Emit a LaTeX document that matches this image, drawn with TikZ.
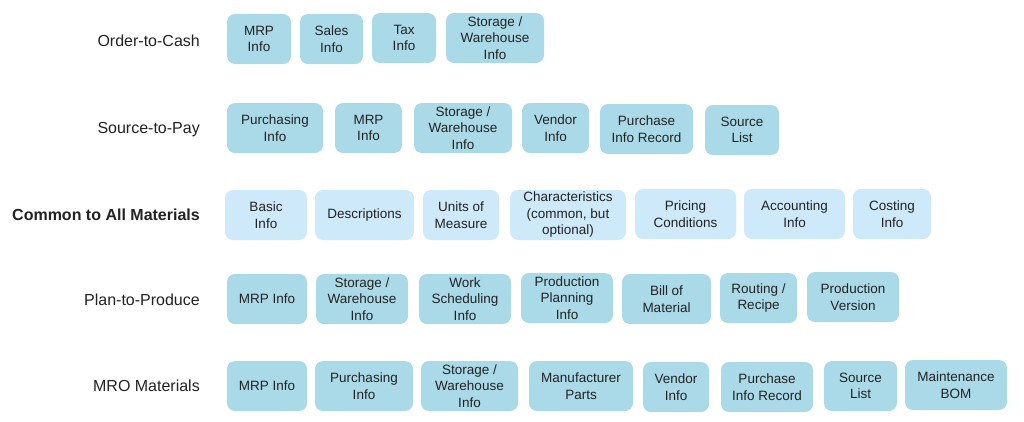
\documentclass[tikz,border=0pt]{standalone}
\usepackage{fontspec}
\setmainfont{Liberation Sans}
\definecolor{boxblue}{RGB}{170,218,232}
\definecolor{boxlight}{RGB}{206,233,250}
\definecolor{txtgray}{RGB}{34,34,34}
\begin{document}
\begin{tikzpicture}[x=1pt,y=-1pt,line join=round,
    rowlabel/.style={anchor=east,inner sep=0pt,text=txtgray,font=\fontsize{16}{19}\selectfont},
    infobox/.style={fill=boxblue,rounded corners=8pt,minimum height=50pt,inner sep=1pt,align=center,text=txtgray,font=\fontsize{13.5}{16.5}\selectfont},
    commonbox/.style={infobox,fill=boxlight}]
	\useasboundingbox (0,0) rectangle (1024,421);
	% row labels
	\node[rowlabel] (o2c) at (200,41) {Order-to-Cash};
	\node[rowlabel] (s2p) at (200,130) {Source-to-Pay};
	\node[rowlabel,font=\fontsize{16}{19}\selectfont\bfseries] (common) at (200,215) {Common to All Materials};
	\node[rowlabel] (p2p) at (200,300) {Plan-to-Produce};
	\node[rowlabel] (mro) at (200,386) {MRO Materials};
	% Order-to-Cash
	\node[infobox,minimum width=64pt] (o2c-mrp) at (259,39) {MRP\\Info};
	\node[infobox,minimum width=63pt] (o2c-sales) at (331.5,39) {Sales\\Info};
	\node[infobox,minimum width=64pt] (o2c-tax) at (404,38) {Tax\\Info};
	\node[infobox,minimum width=98pt] (o2c-storage) at (495,38) {Storage /\\Warehouse\\Info};
	% Source-to-Pay
	\node[infobox,minimum width=96pt] (s2p-purch) at (275,128) {Purchasing\\Info};
	\node[infobox,minimum width=67pt] (s2p-mrp) at (368.5,128) {MRP\\Info};
	\node[infobox,minimum width=98pt] (s2p-storage) at (463,128) {Storage /\\Warehouse\\Info};
	\node[infobox,minimum width=67pt] (s2p-vendor) at (555.5,128) {Vendor\\Info};
	\node[infobox,minimum width=93pt] (s2p-pir) at (646.5,129) {Purchase\\Info Record};
	\node[infobox,minimum width=74pt] (s2p-source) at (742,130) {Source\\List};
	% Common to all materials
	\node[commonbox,minimum width=82pt] (com-basic) at (266,215) {Basic\\Info};
	\node[commonbox,minimum width=99pt] (com-desc) at (364.5,215) {Descriptions};
	\node[commonbox,minimum width=76pt] (com-units) at (461,215) {Units of\\Measure};
	\node[commonbox,minimum width=116pt] (com-char) at (568,215) {Characteristics\\(common, but\\optional)};
	\node[commonbox,minimum width=101pt] (com-pricing) at (685.5,214) {Pricing\\Conditions};
	\node[commonbox,minimum width=101pt] (com-acct) at (794.5,214) {Accounting\\Info};
	\node[commonbox,minimum width=78pt] (com-costing) at (892,214) {Costing\\Info};
	% Plan-to-Produce
	\node[infobox,minimum width=80pt] (p2p-mrp) at (267,299) {MRP Info};
	\node[infobox,minimum width=92pt] (p2p-storage) at (362,299) {Storage /\\Warehouse\\Info};
	\node[infobox,minimum width=92pt] (p2p-work) at (465,299) {Work\\Scheduling\\Info};
	\node[infobox,minimum width=92pt] (p2p-plan) at (567,298) {Production\\Planning\\Info};
	\node[infobox,minimum width=89pt] (p2p-bom) at (666.5,299) {Bill of\\Material};
	\node[infobox,minimum width=77pt] (p2p-routing) at (758.5,298) {Routing /\\Recipe};
	\node[infobox,minimum width=92pt] (p2p-version) at (853,297) {Production\\Version};
	% MRO materials
	\node[infobox,minimum width=80pt] (mro-mrp) at (267,386) {MRP Info};
	\node[infobox,minimum width=98pt] (mro-purch) at (364,386) {Purchasing\\Info};
	\node[infobox,minimum width=97pt] (mro-storage) at (469.5,386) {Storage /\\Warehouse\\Info};
	\node[infobox,minimum width=104pt] (mro-manuf) at (581,386) {Manufacturer\\Parts};
	\node[infobox,minimum width=66pt] (mro-vendor) at (676,387) {Vendor\\Info};
	\node[infobox,minimum width=92pt] (mro-pir) at (767,387) {Purchase\\Info Record};
	\node[infobox,minimum width=73pt] (mro-source) at (860.5,386) {Source\\List};
	\node[infobox,minimum width=102pt] (mro-maint) at (956,385) {Maintenance\\BOM};
\end{tikzpicture}
\end{document}
